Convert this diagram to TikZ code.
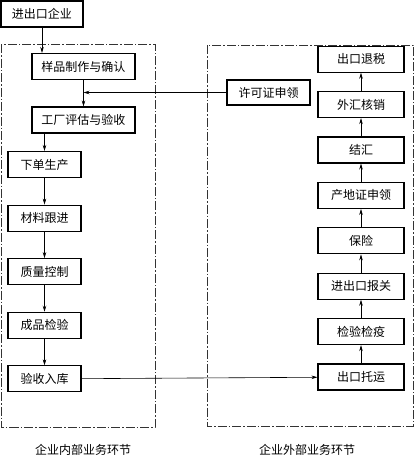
\documentclass[tikz,border=0pt]{standalone}
\usepackage{fontspec}
\newfontfamily\cjk{Noto Sans CJK SC}
\usetikzlibrary{arrows.meta,positioning}
\tikzset{
  stagebox/.style={
    draw=black,
    line width=1.1pt,
    font=\cjk\fontsize{12}{14}\selectfont,
    inner sep=2pt,
    minimum height=26pt
  },
  innerbox/.style={stagebox, minimum width=73pt},
  outerbox/.style={stagebox, minimum width=86pt},
  zonebox/.style={draw=black!80, line width=0.7pt, dash pattern=on 9pt off 2pt on 1.5pt off 2pt},
  flowarrow/.style={-{Stealth[length=6pt,width=3.5pt]}, line width=0.6pt},
  zonelabel/.style={font=\cjk\fontsize{12}{14}\selectfont}
}
\begin{document}
\begin{tikzpicture}[x=1pt,y=1pt]
  \useasboundingbox (0,0) rectangle (414,-458);
  % frames
  \draw[zonebox] (1,-44) rectangle (155,-427);
  \draw[zonebox] (207,-45) rectangle (413,-426);
  \node[zonelabel] (innerlabel) at (83,-450) {企业内部业务环节};
  \node[zonelabel] (outerlabel) at (307,-450) {企业外部业务环节};

  % top
  \node[stagebox,minimum width=82pt] (firm) at (42,-14) {进出口企业};
  \node[stagebox,minimum width=103pt] (sample) at (83.5,-66.5) {样品制作与确认};
  \node[stagebox,minimum width=103pt] (factory) at (83.5,-120) {工厂评估与验收};
  \node[stagebox,minimum width=83pt,minimum height=25pt] (permit) at (268.5,-92.5) {许可证申领};

  % inside the firm
  \node[innerbox] (order) at (44.5,-164.5) {下单生产};
  \node[innerbox,below=26.5pt of order] (material) {材料跟进};
  \node[innerbox,below=26.5pt of material] (quality) {质量控制};
  \node[innerbox,below=26.5pt of quality] (inspect) {成品检验};
  \node[innerbox,below=26.5pt of inspect] (storage) {验收入库};

  % outside the firm
  \node[outerbox] (ship) at (361,-377) {出口托运};
  \node[outerbox,above=18.3pt of ship] (quarantine) {检验检疫};
  \node[outerbox,above=18.3pt of quarantine] (customs) {进出口报关};
  \node[outerbox,above=18.3pt of customs] (insure) {保险};
  \node[outerbox,above=18.3pt of insure] (origin) {产地证申领};
  \node[outerbox,above=18.3pt of origin] (settle) {结汇};
  \node[outerbox,above=18.3pt of settle] (verify) {外汇核销};
  \node[outerbox,above=18.3pt of verify] (refund) {出口退税};

  % connectors
  \draw[flowarrow] (firm.south) -- (firm.south |- sample.north);
  \draw[flowarrow] (sample) -- (factory);
  \coordinate (join) at (sample.south |- permit.west);
  \draw[flowarrow] (permit.west) -- (join);
  \draw[flowarrow] (order.north |- factory.south) -- (order.north);
  \draw[flowarrow] (order) -- (material);
  \draw[flowarrow] (material) -- (quality);
  \draw[flowarrow] (quality) -- (inspect);
  \draw[flowarrow] (inspect) -- (storage);
  \draw[flowarrow] (storage) -- (ship);
  \draw[flowarrow] (ship) -- (quarantine);
  \draw[flowarrow] (quarantine) -- (customs);
  \draw[flowarrow] (customs) -- (insure);
  \draw[flowarrow] (insure) -- (origin);
  \draw[flowarrow] (origin) -- (settle);
  \draw[flowarrow] (settle) -- (verify);
  \draw[flowarrow] (verify) -- (refund);
\end{tikzpicture}
\end{document}
